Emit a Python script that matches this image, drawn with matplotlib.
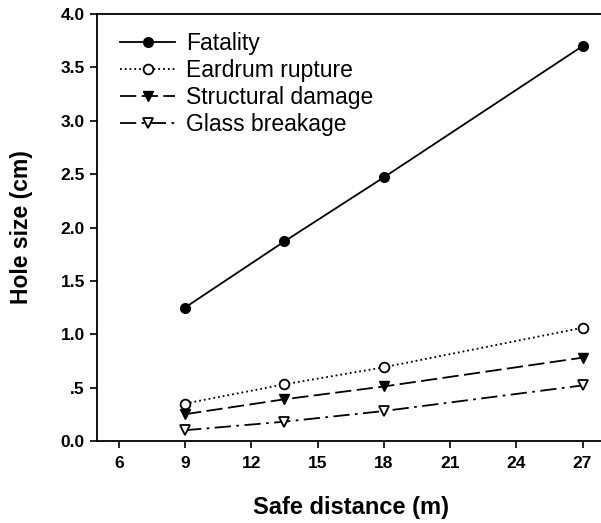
import numpy as np
import matplotlib
matplotlib.use('Agg')
import matplotlib.pyplot as plt

plt.rcParams['font.family'] = ['Liberation Sans', 'DejaVu Sans']

# data
distance = [9, 13.5, 18, 27]
fatality = [1.25, 1.87, 2.47, 3.70]
eardrum = [0.35, 0.53, 0.69, 1.06]
structural = [0.25, 0.39, 0.51, 0.78]
glass = [0.10, 0.18, 0.28, 0.52]

xticks = [6, 9, 12, 15, 18, 21, 24, 27]
yticks = [0.0, 0.5, 1.0, 1.5, 2.0, 2.5, 3.0, 3.5, 4.0]
ylabels = ['0.0', '.5', '1.0', '1.5', '2.0', '2.5', '3.0', '3.5', '4.0']

fig = plt.figure(figsize=(6.01, 5.23), dpi=100)
ax = fig.add_axes([0.161, 0.157, 0.845, 0.816])

ax.plot(distance, fatality, '-', color='black', lw=1.3, marker='o', ms=7,
        mfc='black', label='Fatality')
ax.plot(distance, eardrum, ':', color='black', lw=1.3, marker='o', ms=7,
        mfc='white', mew=1.3, label='Eardrum rupture')
ax.plot(distance, structural, color='black', lw=1.3, dashes=(9, 3), marker='v',
        ms=7, mfc='black', label='Structural damage')
ax.plot(distance, glass, color='black', lw=1.3, dashes=(9, 3, 1.5, 3), marker='v',
        ms=7, mfc='white', mew=1.3, label='Glass breakage')

ax.set_xlim(5, 28)
ax.set_ylim(0, 4)
ax.set_xticks(xticks)
ax.set_yticks(yticks)
ax.set_yticklabels(ylabels)
ax.tick_params(direction='out', length=5, width=1.2, labelsize=12.5)
ax.tick_params(axis='x', pad=6)
for lab in ax.get_xticklabels() + ax.get_yticklabels():
    lab.set_fontweight('bold')
for s in ax.spines.values():
    s.set_linewidth(1.3)

ax.set_xlabel('Safe distance (m)', fontsize=17, fontweight='bold', labelpad=18)
ax.set_ylabel('Hole size (cm)', fontsize=16.5, fontweight='bold', labelpad=20)

ax.legend(loc='upper left', bbox_to_anchor=(0.015, 0.995), frameon=False,
          fontsize=16.5, handlelength=2.4, handletextpad=0.45, labelspacing=0.17,
          borderaxespad=0.3)

fig.savefig('out.png', dpi=100)
